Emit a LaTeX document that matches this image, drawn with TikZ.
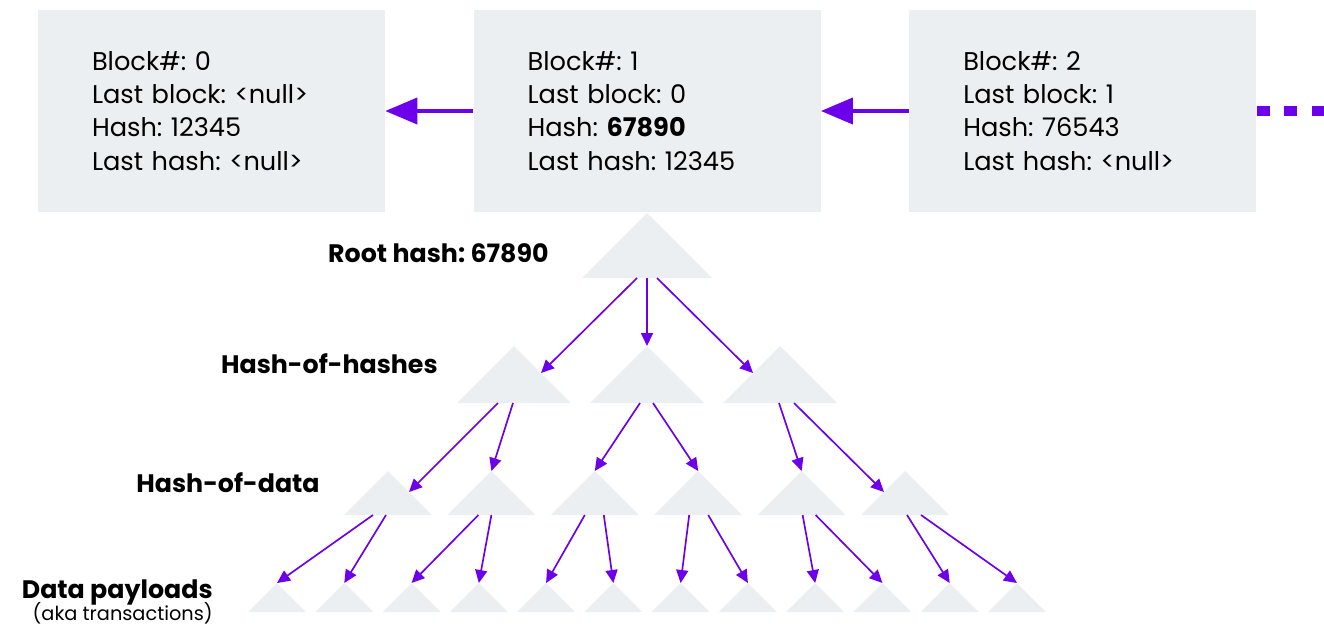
\documentclass[tikz,border=0pt]{standalone}
\usepackage{fontspec}
\setmainfont{Poppins}
\usepackage{xcolor}
\usepackage{tikz}
\usetikzlibrary{arrows.meta, positioning, calc}
\definecolor{blockgray}{RGB}{236, 239, 242}
\definecolor{chainpurple}{RGB}{108, 0, 234}
\frenchspacing

% apex name, apex x, apex y, half width (= height)
\newcommand{\merkletri}[4]{%
  \coordinate (#1) at (#2,#3);
  \fill[blockgray] (#1) -- ++(-#4,#4) -- ++(2*#4,0) -- cycle;}

\begin{document}
\begin{tikzpicture}[x=0.02cm, y=-0.02cm,
    blockbox/.style={fill=blockgray, align=left, text width=4.78cm,
      inner xsep=1.08cm, minimum height=4.04cm,
      font=\fontsize{14.6}{18.9}\selectfont},
    chainlink/.style={chainpurple, line width=2.3pt,
      -{Triangle[length=0.64cm, width=0.52cm]}},
    link/.style={chainpurple, line width=0.95pt,
      -{Triangle[length=0.26cm, width=0.24cm]}},
    lbl/.style={font=\bfseries\fontsize{14.4}{18}\selectfont,
      anchor=base east, inner sep=0pt}]
  \useasboundingbox (0,0) rectangle (1324,626);

  % the chain of blocks
  \node[blockbox] (blk0) at (211.5,111)
    {Block\#: 0\\Last block: <null>\\Hash: 12345\\Last hash: <null>};
  \node[blockbox, right=1.76cm of blk0] (blk1)
    {Block\#: 1\\Last block: 0\\Hash: \textbf{67890}\\Last hash: 12345};
  \node[blockbox, right=1.76cm of blk1] (blk2)
    {Block\#: 2\\Last block: 1\\Hash: 76543\\Last hash: <null>};
  \coordinate (more) at (1324,111);
  \draw[chainlink] (blk1.west) -- (blk0.east);
  \draw[chainlink] (blk2.west) -- (blk1.east);
  \draw[chainpurple, line width=0.2cm, dash pattern=on 0.26cm off 0.29cm]
    (blk2.east) -- (more);

  % merkle tree of block 1
  \merkletri{root}{647}{213}{65}
  \foreach \i/\x in {1/514, 2/647, 3/780}
    {\merkletri{h\i}{\x}{346}{57}}
  \foreach \i in {1,...,6}
    {\pgfmathsetmacro\x{388+103.4*(\i-1)}\merkletri{d\i}{\x}{471}{44}}
  \foreach \i in {1,...,12}
    {\pgfmathsetmacro\x{277+67.27*(\i-1)}\merkletri{p\i}{\x}{583}{29}}

  \foreach \j/\dx/\ex/\ey in {1/-10/27/27, 2/0/0/0, 3/10/-27/27}
    \draw[link] ($(root)+(\dx,65)$) -- ($(h\j)+(\ex,\ey)$);
  \foreach \i/\dx/\j/\ex/\ey in {1/-16/1/21/21, 1/-1/2/0/0, 2/-7/3/0/0,
      2/6/4/0/0, 3/-1/5/0/0, 3/14/6/-21/21}
    \draw[link] ($(h\i)+(\dx,57)$) -- ($(d\j)+(\ex,\ey)$);
  \foreach \i/\dx/\j in {1/-15/1, 1/-2/2, 2/-13/3, 2/0/4, 3/-10/5, 3/9/6,
      4/-9/7, 4/10/8, 5/1/9, 5/14/10, 6/2/11, 6/16/12}
    \draw[link] ($(d\i)+(\dx,44)$) -- (p\j);

  % level labels
  \node[lbl] (rootlbl) at (549,262) {Root hash: 67890};
  \node[lbl] (hhlbl) at (438,373) {Hash-of-hashes};
  \node[lbl] (hdlbl) at (320,492) {Hash-of-data};
  \node[lbl] (datalbl) at (213,598) {Data payloads};
  \node[lbl, font=\fontsize{11}{13}\selectfont] (akalbl) at (213,620)
    {(aka transactions)};
\end{tikzpicture}
\end{document}
